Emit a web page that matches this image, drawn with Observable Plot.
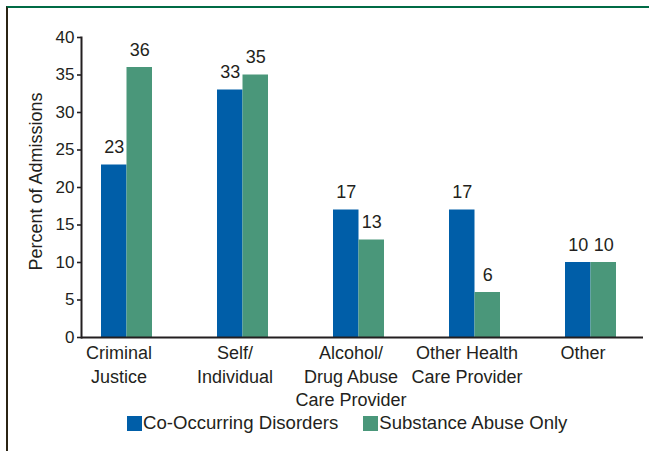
<!DOCTYPE html>
<html>
<head>
<meta charset="utf-8">
<script src="https://cdn.jsdelivr.net/npm/d3@7"></script>
<script src="https://cdn.jsdelivr.net/npm/@observablehq/plot@0.6"></script>
<style>
  html, body { margin: 0; padding: 0; background: #fff; overflow: hidden; }
  body { width: 649px; height: 451px; position: relative; font-family: "Liberation Sans", Arial, sans-serif; color: #231f20; }
  #border { position: absolute; left: 6px; top: 6px; width: 645px; height: 447px; border-top: 2px solid #006b45; border-left: 2px solid #2b2414; }
  #chart { position: absolute; left: 0; top: 0; }
  #legend { position: absolute; left: 127px; top: 412px; display: flex; align-items: center; font-size: 18.6px; white-space: nowrap; }
  #legend .sw { width: 15px; height: 15px; display: inline-block; }
  #legend .lab { margin-left: 1px; }
  #legend .item { display: flex; align-items: center; }
  #legend .item + .item { margin-left: 25px; }
</style>
</head>
<body>
<div id="border"></div>
<div id="chart"></div>
<div id="legend"></div>
<script>
const categories = ["Criminal Justice", "Self/Individual", "Alcohol/Drug Abuse Care Provider", "Other Health Care Provider", "Other"];
const tickLabels = ["Criminal\nJustice", "Self/\nIndividual", "Alcohol/\nDrug Abuse\nCare Provider", "Other Health\nCare Provider", "Other"];
const series = ["Co-Occurring Disorders", "Substance Abuse Only"];
const coOccurring = [23, 33, 17, 17, 10];
const substanceOnly = [36, 35, 13, 6, 10];
const yTicks = [0, 5, 10, 15, 20, 25, 30, 35, 40];
const colors = ["#005ea8", "#4a977a"];

const ink = "#231f20";
const rowsA = categories.map((c, i) => ({category: c, series: series[0], value: coOccurring[i]}));
const rowsB = categories.map((c, i) => ({category: c, series: series[1], value: substanceOnly[i]}));
const half = 25.5;

const chart = Plot.plot({
  width: 649,
  height: 410,
  marginLeft: 81,
  marginRight: 6,
  marginTop: 37,
  marginBottom: 73,
  style: {fontFamily: '"Liberation Sans", Arial, sans-serif', color: ink, background: "transparent", overflow: "visible"},
  x: {domain: categories, range: [81, 636], paddingInner: 0.563, paddingOuter: 0.158},
  y: {domain: [0, 40]},
  marks: [
    Plot.barY(rowsA, {x: "category", y: "value", fill: colors[0], insetLeft: 0, insetRight: half}),
    Plot.barY(rowsB, {x: "category", y: "value", fill: colors[1], insetLeft: half, insetRight: 0}),
    Plot.text(rowsA, {x: "category", y: "value", text: "value", dx: -half / 2, dy: -12, lineAnchor: "bottom", fontSize: 18, fill: ink}),
    Plot.text(rowsB, {x: "category", y: "value", text: "value", dx: half / 2, dy: -12, lineAnchor: "bottom", fontSize: 18, fill: ink}),
    Plot.axisX({tickSize: 0, tickPadding: 5, dx: -8, fontSize: 18, lineHeight: 1.3, label: null, fill: ink,
      tickFormat: d => tickLabels[categories.indexOf(d)]}),
    Plot.axisY({ticks: yTicks, tickSize: 4, tickPadding: 3, fontSize: 17, label: null, stroke: ink, strokeWidth: 1.6, fill: ink}),
    Plot.ruleY([0], {stroke: ink, strokeWidth: 2}),
    Plot.frame({anchor: "left", stroke: ink, strokeWidth: 2}),
    Plot.text(["Percent of Admissions"], {frameAnchor: "left", textAnchor: "middle", lineAnchor: "middle", rotate: -90, dx: -45, dy: -6, fontSize: 18, fill: ink})
  ]
});
document.getElementById("chart").appendChild(chart);

const legend = document.getElementById("legend");
series.forEach((s, i) => {
  const item = document.createElement("div");
  item.className = "item";
  const sw = document.createElement("span");
  sw.className = "sw";
  sw.style.background = colors[i];
  const lab = document.createElement("span");
  lab.className = "lab";
  lab.textContent = s;
  item.appendChild(sw);
  item.appendChild(lab);
  legend.appendChild(item);
});
</script>
</body>
</html>
